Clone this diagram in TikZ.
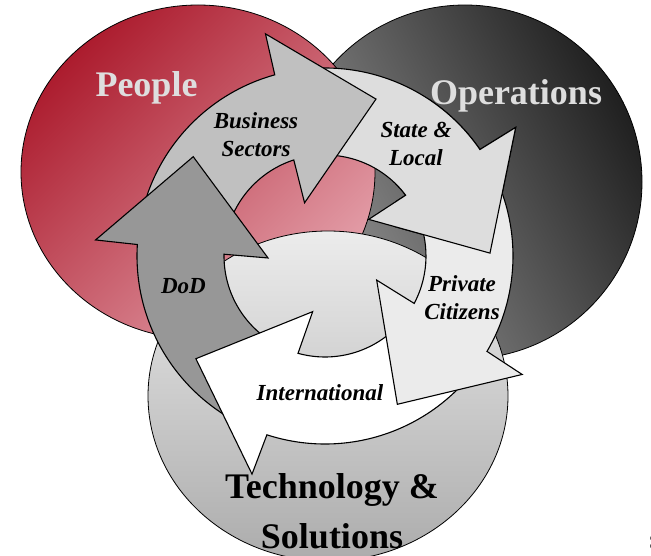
\documentclass[tikz,border=0pt]{standalone}
\usepackage{fontspec}
\setmainfont{Liberation Serif}
\usetikzlibrary{calc}
\definecolor{peopledark}{RGB}{172,28,46}
\definecolor{peoplelight}{RGB}{228,160,170}
\definecolor{opsdark}{RGB}{32,32,32}
\definecolor{opslight}{RGB}{150,150,150}
\definecolor{techtop}{RGB}{236,236,236}
\definecolor{techbot}{RGB}{172,172,172}
\definecolor{titlegray}{RGB}{222,222,222}
\definecolor{dodfill}{RGB}{151,151,151}
\definecolor{bsfill}{RGB}{192,192,192}
\definecolor{slfill}{RGB}{221,221,221}
\definecolor{pcfill}{RGB}{235,235,235}
\newcommand{\ringarrow}[3]{%
  \path[arrowbox, fill=#1] ($(C)+(#2:188)$) arc[start angle=#2, end angle={#3-0.5}, radius=188]
    -- ($(C)+(#3:230)$) -- ($(C)+({#3+33}:165)$) -- ($(C)+({#3-6}:57)$)
    -- ($(C)+({#3-3}:101)$) arc[start angle={#3-3}, end angle=#2, radius=101] -- cycle;}
\begin{document}
\begin{tikzpicture}[x=1pt,y=-1pt,
  venn/.style={draw=black, line width=0.8pt},
  arrowbox/.style={draw=black, line width=1.1pt, line join=miter},
  lbl/.style={font=\fontsize{23}{28}\selectfont\bfseries\itshape, align=center, inner sep=0pt},
  big/.style={font=\fontsize{36}{50}\selectfont\bfseries, align=center, inner sep=0pt}]
\useasboundingbox (0,0) rectangle (651,556);
\coordinate (C) at (325,256);
% Venn circles
\path[venn, top color=opsdark, bottom color=opslight, shading angle=-62] (465,182) circle[radius=177];
\path[venn, top color=peopledark, bottom color=peoplelight, shading angle=45] (198,172) ellipse[x radius=177, y radius=167];
\path[venn, top color=techtop, bottom color=techbot] (328,396) ellipse[x radius=180, y radius=165];
% ring of arrows
\ringarrow{slfill}{-97}{-34}
\ringarrow{bsfill}{-168}{-105}
\ringarrow{dodfill}{116.5}{184}
\ringarrow{white}{39}{108.5}
\ringarrow{pcfill}{-26}{31}
\begin{scope}
  \clip (395,100) rectangle (651,275);
  \ringarrow{slfill}{-97}{-34}
\end{scope}
% labels (anchor base = baseline of the last line)
\node[big, text=titlegray, anchor=base] (people) at (146.5,97) {People};
\node[big, text=titlegray, anchor=base] (ops) at (516,105) {Operations};
\node[big, anchor=base] (tech) at (332,548) {Technology \&\\Solutions};
\node[lbl, anchor=base] (bs) at (256,157) {Business\\Sectors};
\node[lbl, anchor=base] (sl) at (416,166) {State \&\\Local};
\node[lbl, anchor=base] (pc) at (462,319.5) {Private\\Citizens};
\node[lbl, anchor=base] (dod) at (183.5,294) {DoD};
\node[lbl, anchor=base] (intl) at (320,400.7) {International};
\node[font=\fontsize{20}{20}\selectfont, anchor=base west, inner sep=0pt] (frag) at (649,548) {S};
\end{tikzpicture}
\end{document}
